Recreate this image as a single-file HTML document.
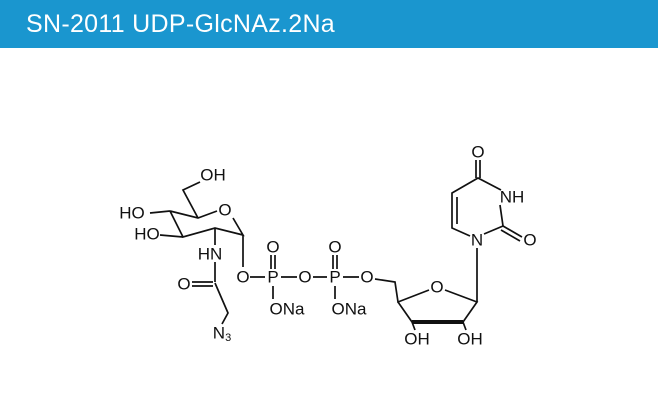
<!DOCTYPE html>
<html><head><style>
html,body{margin:0;padding:0;background:#fff;width:658px;height:407px;overflow:hidden}
.hdr{position:absolute;left:0;top:0;width:658px;height:48px;background:#1a96cf;color:#fff;font-family:"Liberation Sans",sans-serif;font-size:25px;line-height:48px;padding-left:26px;box-sizing:border-box;letter-spacing:0.3px}
svg{position:absolute;left:0;top:0}
text{font-family:"Liberation Sans",sans-serif;font-size:17px;fill:#111;text-anchor:middle;dominant-baseline:central}
</style></head><body>
<div class="hdr">SN-2011 UDP-GlcNAz.2Na</div>
<svg width="658" height="407" stroke="#111" stroke-width="1.7" fill="none">
<path d="M170,211 L198,218 L217,211 M233,218 L243,235 L215,228 L183,237 L170,211"/>
<path d="M198,218 L183,190 L200,182"/>
<path d="M170,211 L150,213"/>
<path d="M183,237 L160,235"/>
<path d="M215,228 L215,245"/>
<path d="M215,262 L215,282 M213,282 L192,282 M213,286 L192,286"/>
<path d="M215,283 L228,313 L222,324"/>
<path d="M243,235 L243,267"/>
<path d="M250,277 L265,277 M281,277 L297,277 M313,277 L327,277 M343,277 L359,277"/>
<path d="M271,255 L271,269 M275,255 L275,269 M333,255 L333,269 M337,255 L337,269"/>
<path d="M273,286 L273,299 M335,286 L335,299"/>
<path d="M375,279 L395,282 L398,302 L429,290 M445,290 L477,302 L463,322 M412,322 L398,302"/>
<path d="M412,322 L463,322" stroke-width="4"/>
<path d="M412,322 L415,330 M463,322 L466,330"/>
<path d="M477,302 L477,248"/>
<path d="M484,234 L503,226 L500,205 M501,190 L478,178 L452,193 L452,228 L470,236"/>
<path d="M457,197 L457,224"/>
<path d="M503,226 L522,237 M501,230 L520,241"/>
<path d="M476,178 L476,160 M480,178 L480,160"/>
</svg>
<svg width="658" height="407">
<text x="213" y="175">OH</text>
<text x="132" y="213">HO</text>
<text x="147" y="234">HO</text>
<text x="225" y="210">O</text>
<text x="210" y="254">HN</text>
<text x="184" y="284">O</text>
<text x="222" y="333">N<tspan font-size="11" dy="5">3</tspan></text>
<text x="243" y="277">O</text>
<text x="273" y="277">P</text>
<text x="273" y="247">O</text>
<text x="287" y="309">ONa</text>
<text x="305" y="277">O</text>
<text x="335" y="277">P</text>
<text x="335" y="247">O</text>
<text x="349" y="309">ONa</text>
<text x="367" y="277">O</text>
<text x="437" y="287">O</text>
<text x="417" y="339">OH</text>
<text x="470" y="339">OH</text>
<text x="477" y="240">N</text>
<text x="512" y="197">NH</text>
<text x="530" y="240">O</text>
<text x="478" y="152">O</text>
</svg>
</body></html>
